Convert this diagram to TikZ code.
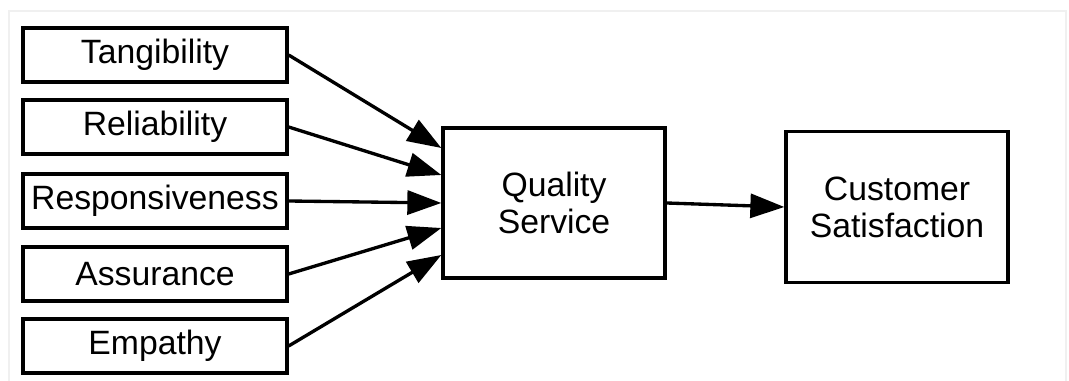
\documentclass[tikz,border=0pt]{standalone}
\usepackage{fontspec}
\setmainfont{Liberation Sans}
\usepackage{tikz}
\usetikzlibrary{arrows.meta,positioning,calc}

\begin{document}
\begin{tikzpicture}[x=0.02cm,y=-0.02cm,font=\fontsize{19.2}{21}\selectfont,
  factor/.style={draw,line width=1.9pt,minimum width=5.28cm,minimum height=1.08cm,inner sep=0pt},
  bigbox/.style={draw,line width=1.9pt,minimum width=4.44cm,minimum height=3cm,align=center,inner sep=0pt},
  link/.style={line width=1.9pt,-{Triangle[length=0.68cm,width=0.48cm]}}]
\useasboundingbox (0,0) rectangle (1069,381);
% frame
\draw[gray!12,line width=1pt] (9,400) -- (9,11) -- (1066,11) -- (1066,400);
% factors
\node[factor] (tan) at (155,55) {Tangibility};
\node[factor] (rel) at (155,127) {Reliability};
\node[factor] (res) at (155,201) {Responsiveness};
\node[factor] (ass) at (155,274) {Assurance};
\node[factor] (emp) at (155,346) {Empathy};
% main boxes
\node[bigbox] (qs) at (554,203) {Quality\\Service};
\node[bigbox,minimum height=3.02cm] (cs) at (897,207) {Customer\\Satisfaction};
% arrows into quality service
\foreach \f/\dy in {tan/1.1cm,rel/0.56cm,res/0cm,ass/-0.5cm,emp/-1.04cm}{
  \draw[link] (\f.east) -- ([yshift=\dy]qs.west);
}
\draw[link] (qs.east) -- (cs.west);
\end{tikzpicture}
\end{document}
